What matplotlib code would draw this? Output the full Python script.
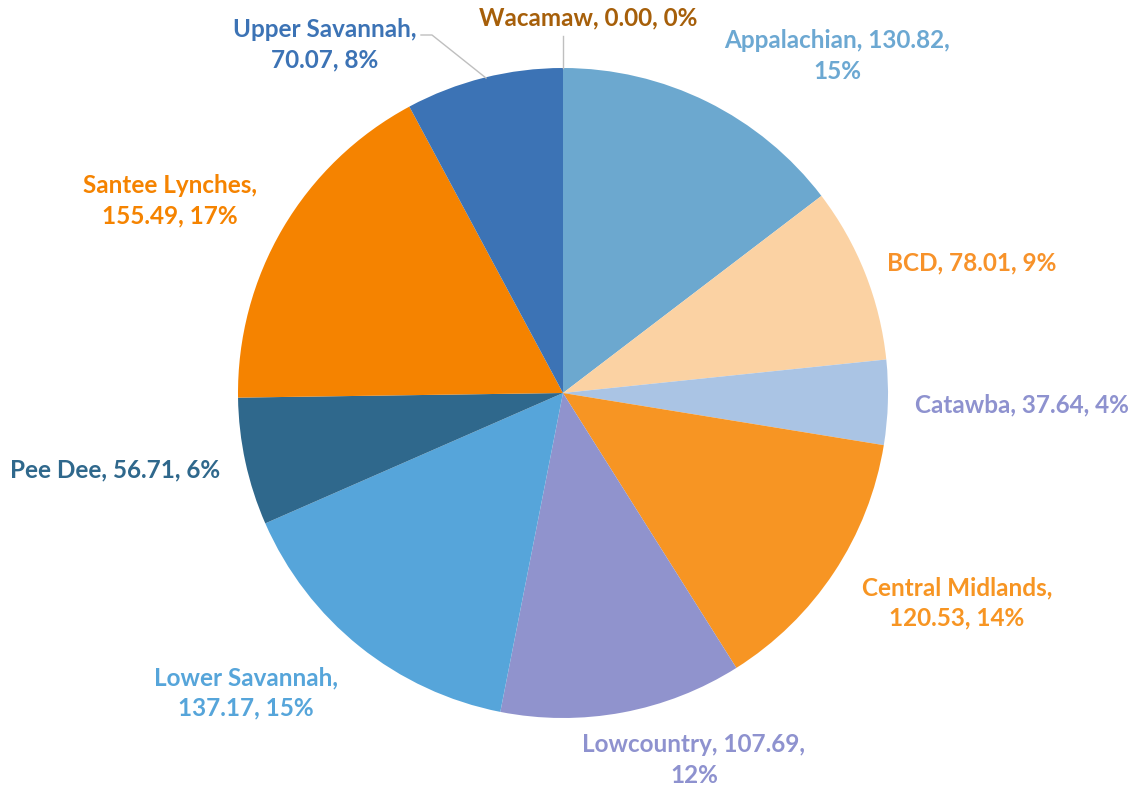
import matplotlib
matplotlib.use("Agg")
import matplotlib.pyplot as plt

plt.rcParams['font.family'] = ['Lato', 'DejaVu Sans']

# data
regions = ["Appalachian", "BCD", "Catawba", "Central Midlands", "Lowcountry",
           "Lower Savannah", "Pee Dee", "Santee Lynches", "Upper Savannah", "Wacamaw"]
values = [130.82, 78.01, 37.64, 120.53, 107.69, 137.17, 56.71, 155.49, 70.07, 0.00]
pcts = [15, 9, 4, 14, 12, 15, 6, 17, 8, 0]   # as shown on the chart

slice_colors = ["#6CA8CF", "#FBD2A3", "#AAC4E4", "#F79523", "#9093CD",
                "#56A5DA", "#2F688C", "#F58300", "#3C73B5", "#A65F0A"]
label_colors = ["#6CA8D2", "#F7922A", "#8E92CF", "#F79523", "#8E92CF",
                "#56A5DA", "#2F688C", "#F58300", "#3C73B5", "#A65F0A"]

# label layout (pixel positions, y from top) and where the line break goes
label_pos = [(837, 56), (972, 263), (1022, 405), (957, 603), (694, 760),
             (246, 693), (115, 470), (170, 201), (325, 45), (588, 18)]
label_break = [2, 0, 0, 1, 2, 1, 0, 1, 1, 0]   # after which comma to break (0 = none)

W, H = 1137, 793
fig = plt.figure(figsize=(W / 100, H / 100), dpi=100)
ax = fig.add_axes([0, 0, 1, 1])

cx, cy, r = 563, H - 393, 325
ax.pie(values, colors=slice_colors, startangle=90, counterclock=False,
       center=(cx, cy), radius=r, wedgeprops=dict(linewidth=0),
       frame=True)
ax.set_xlim(0, W)
ax.set_ylim(0, H)
ax.axis('off')

for i, name in enumerate(regions):
    parts = [name, "%.2f" % values[i], "%d%%" % pcts[i]]
    b = label_break[i]
    if b == 0:
        txt = ", ".join(parts)
    else:
        txt = ", ".join(parts[:b]) + ",\n" + ", ".join(parts[b:])
    x, y = label_pos[i]
    ax.text(x, H - y, txt, ha='center', va='center', fontsize=17.5,
            fontweight='bold', color=label_colors[i], linespacing=1.4)

# leader lines for the small labels at the top
ax.plot([421, 432, 486], [H - 35, H - 35, H - 78], color="#BFBFBF", lw=1)
ax.plot([563, 563], [H - 36, H - 68], color="#BFBFBF", lw=1)

fig.savefig("out.png", dpi=100, facecolor="white")
